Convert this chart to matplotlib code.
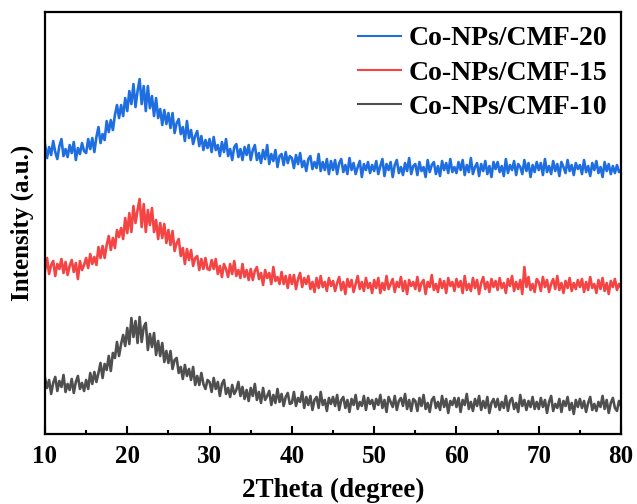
import numpy as np
import matplotlib.pyplot as plt

plt.rcParams['font.family'] = ['Liberation Serif', 'DejaVu Serif']
plt.rcParams['font.weight'] = 'bold'

# 2theta sampled every 0.25 degree from 10 to 80
two_theta = np.arange(10, 80.001, 0.25)

# raw intensities (a.u.), one row = 5 degrees
cmf20 = [
    124, 110, 121, 113, 127, 116, 109, 122, 129, 112, 119, 111, 123, 115, 126, 108, 120, 114, 125, 117,
    115, 129, 119, 130, 116, 131, 141, 125, 134, 128, 147, 136, 148, 138, 153, 163, 150, 163, 152, 170,
    157, 177, 164, 184, 161, 177, 189, 164, 182, 157, 182, 160, 172, 152, 170, 150, 159, 143, 158, 144,
    155, 140, 155, 135, 145, 149, 134, 141, 127, 147, 130, 138, 124, 132, 137, 122, 132, 118, 128, 120,
    129, 116, 131, 118, 123, 112, 126, 116, 129, 112, 119, 108, 121, 124, 111, 119, 108, 121, 113, 123,
    108, 118, 123, 108, 115, 105, 118, 109, 123, 104, 114, 107, 118, 101, 112, 114, 103, 116, 105, 112,
    110, 100, 113, 104, 115, 101, 107, 97, 109, 112, 99, 106, 100, 114, 97, 106, 98, 109, 94, 107,
    98, 108, 94, 105, 109, 96, 103, 94, 110, 98, 105, 94, 101, 107, 91, 104, 98, 106, 95, 103,
    97, 107, 94, 102, 109, 92, 104, 98, 106, 91, 103, 108, 95, 101, 93, 105, 97, 110, 94, 102,
    104, 93, 106, 97, 101, 91, 108, 96, 103, 106, 94, 102, 92, 107, 98, 105, 95, 109, 96, 101,
    95, 106, 98, 108, 93, 103, 96, 110, 94, 101, 105, 92, 104, 97, 107, 94, 102, 91, 106, 99,
    106, 96, 102, 92, 109, 95, 103, 98, 107, 93, 104, 101, 94, 108, 97, 105, 91, 103, 96, 106,
    98, 105, 93, 109, 96, 102, 94, 107, 97, 104, 92, 106, 101, 95, 108, 97, 103, 93, 105, 99,
    103, 94, 108, 96, 102, 92, 105, 98, 107, 95, 101, 91, 106, 97, 104, 94, 102, 95, 103, 96,
    98,
]

cmf15 = [
    114, 127, 111, 120, 124, 109, 121, 116, 126, 112, 123, 110, 119, 125, 113, 122, 106, 124, 115, 120,
    127, 117, 131, 121, 128, 120, 138, 127, 139, 127, 140, 149, 135, 147, 137, 155, 148, 157, 146, 167,
    152, 172, 153, 179, 162, 175, 186, 158, 181, 153, 175, 160, 177, 153, 165, 146, 162, 147, 161, 142,
    155, 140, 154, 134, 142, 146, 129, 137, 121, 136, 125, 135, 119, 127, 129, 115, 126, 116, 127, 116,
    115, 125, 116, 126, 111, 119, 108, 121, 116, 108, 121, 111, 124, 109, 115, 107, 121, 108, 115, 105,
    116, 105, 114, 118, 106, 112, 100, 115, 107, 112, 101, 118, 104, 108, 101, 113, 101, 109, 97, 110,
    101, 110, 96, 106, 112, 98, 107, 101, 109, 96, 103, 93, 107, 97, 109, 98, 103, 94, 107, 99,
    104, 94, 102, 108, 95, 103, 91, 106, 98, 105, 93, 101, 109, 96, 103, 94, 107, 97, 102, 92,
    105, 97, 107, 92, 102, 95, 109, 96, 101, 106, 93, 103, 98, 108, 94, 104, 91, 105, 99, 103,
    96, 108, 94, 102, 105, 91, 103, 98, 110, 95, 101, 93, 106, 97, 104, 92, 107, 99, 103, 94,
    106, 98, 104, 92, 109, 95, 101, 94, 107, 97, 105, 91, 102, 108, 96, 103, 93, 106, 98, 104,
    95, 107, 97, 102, 92, 106, 99, 109, 94, 103, 96, 105, 91, 118, 98, 108, 95, 101, 93, 106,
    103, 94, 108, 98, 105, 93, 101, 106, 96, 109, 95, 102, 92, 104, 97, 107, 94, 102, 96, 105,
    98, 106, 93, 103, 95, 108, 97, 101, 92, 105, 96, 107, 94, 102, 91, 104, 98, 106, 95, 101,
    97,
]

cmf10 = [
    125, 115, 123, 109, 120, 126, 112, 122, 116, 128, 111, 119, 113, 124, 110, 121, 127, 114, 120, 112,
    123, 114, 130, 119, 131, 121, 130, 140, 125, 139, 133, 147, 132, 150, 145, 161, 147, 159, 168, 157,
    175, 159, 185, 166, 182, 160, 186, 161, 176, 180, 153, 169, 156, 170, 148, 162, 147, 160, 141, 152,
    140, 152, 134, 143, 145, 130, 136, 124, 138, 127, 134, 123, 136, 118, 127, 118, 130, 119, 114, 123,
    121, 111, 125, 114, 121, 107, 119, 123, 109, 115, 106, 118, 109, 113, 121, 107, 116, 104, 113, 102,
    115, 107, 119, 103, 111, 100, 115, 103, 107, 112, 98, 108, 100, 114, 101, 109, 97, 106, 110, 99,
    100, 111, 97, 105, 101, 111, 95, 106, 98, 107, 93, 103, 106, 95, 111, 98, 103, 92, 105, 99,
    106, 97, 108, 93, 103, 106, 95, 103, 91, 104, 98, 108, 94, 101, 97, 107, 93, 105, 99, 103,
    94, 104, 98, 108, 95, 103, 91, 106, 101, 96, 107, 93, 102, 105, 97, 109, 94, 103, 92, 104,
    102, 92, 105, 97, 108, 94, 100, 91, 103, 106, 95, 101, 93, 107, 96, 104, 90, 102, 98, 105,
    96, 105, 91, 103, 98, 109, 94, 101, 92, 104, 97, 107, 93, 102, 95, 106, 90, 100, 104, 96,
    104, 93, 101, 95, 107, 92, 102, 105, 94, 100, 91, 108, 97, 103, 93, 102, 96, 106, 94, 101,
    94, 105, 96, 103, 90, 101, 107, 92, 99, 95, 104, 91, 102, 97, 106, 93, 100, 89, 103, 96,
    104, 95, 102, 91, 100, 106, 93, 99, 92, 101, 96, 107, 94, 103, 90, 100, 105, 95, 92, 102,
    97,
]

labels = ['Co-NPs/CMF-20', 'Co-NPs/CMF-15', 'Co-NPs/CMF-10']
colors = ['#1f6ee0', '#f44444', '#4f4f4f']
offsets = [235, 118, 0]   # vertical stacking

fig = plt.figure(figsize=(6.37, 5.04), dpi=100)
ax = fig.add_axes([0.0706, 0.139, 0.9044, 0.837])

for y, lab, c, off in zip([cmf20, cmf15, cmf10], labels, colors, offsets):
    ax.plot(two_theta, np.array(y) + off, color=c, lw=1.9, label=lab)

ax.set_xlim(10, 80)
ax.set_ylim(69, 491)
ax.set_xticks(np.arange(10, 81, 10))
ax.set_xticks(np.arange(15, 80, 10), minor=True)
ax.set_yticks([])
ax.tick_params(axis='x', which='major', direction='in', length=6, width=1.5, labelsize=18, pad=8)
ax.tick_params(axis='x', which='minor', direction='in', length=3, width=1.5)
for s in ax.spines.values():
    s.set_linewidth(1.6)

ax.set_xlabel('2Theta (degree)', fontsize=19.5, fontweight='bold', labelpad=7)
ax.set_ylabel('Intensity (a.u.)', fontsize=18, fontweight='bold', labelpad=8)

leg = ax.legend(loc='upper right', frameon=False, fontsize=20, handlelength=1.55,
                labelspacing=0.32, borderaxespad=0.1, handletextpad=0.25)
for t in leg.get_texts():
    t.set_fontweight('bold')
for h in leg.get_lines():
    h.set_linewidth(1.5)

fig.savefig('out.png', dpi=100)
